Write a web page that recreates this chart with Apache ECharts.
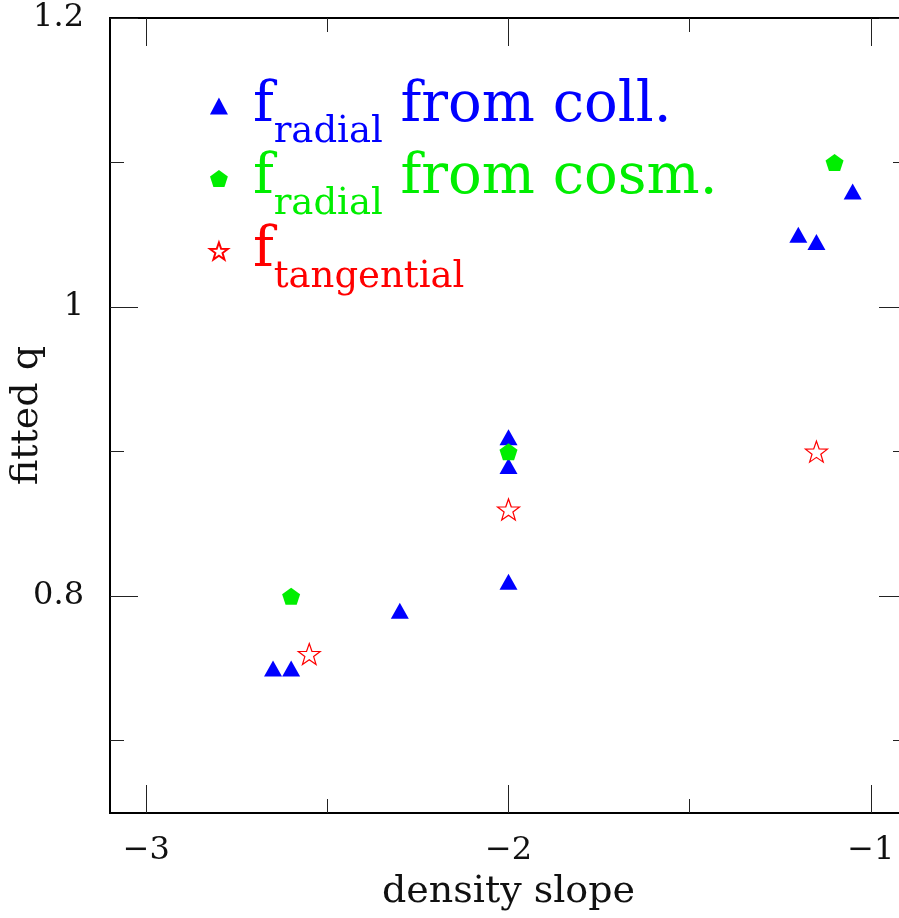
<!DOCTYPE html>
<html>
<head>
<meta charset="utf-8">
<script src="https://cdn.jsdelivr.net/npm/echarts@6/dist/echarts.min.js"></script>
<style>html,body{margin:0;padding:0;background:#fff;}#c{width:899px;height:918px;}</style>
</head>
<body>
<div id="c"></div>
<script>
// ---- data ----
const collX = [-2.65, -2.6, -2.3, -2.0, -2.0, -2.0, -1.2, -1.15, -1.05];
const collY = [0.75, 0.75, 0.79, 0.81, 0.89, 0.91, 1.05, 1.045, 1.08];
const cosmX = [-2.6, -2.0, -1.1];
const cosmY = [0.80, 0.90, 1.10];
const tangX = [-2.55, -2.0, -1.15];
const tangY = [0.76, 0.86, 0.90];
const xMajor = [-3, -2, -1];
const xMinor = [-2.5, -1.5];
const yMajor = [0.8, 1.0, 1.2];
const yMinor = [0.7, 0.9, 1.1];
const seriesNames = ['coll', 'cosm', 'tang'];

const FONT = 'DejaVu Serif';
const pentagon = 'path://M0,-10 L9.51,-3.09 L5.88,8.09 L-5.88,8.09 L-9.51,-3.09 Z';
const star = 'path://M0,-10 L2.35,-3.24 L9.51,-3.09 L3.80,1.24 L5.88,8.09 L0,4 L-5.88,8.09 L-3.80,1.24 L-9.51,-3.09 L-2.35,-3.24 Z';

const zip = (xs, ys) => xs.map((x, i) => [x, ys[i]]);
const minus = v => (v < 0 ? '\u2212' + Math.abs(v) : String(v));

function xAxisDef(pos, ticks, len, labels, extra) {
  return Object.assign({
    type: 'value', position: pos, min: -3.1, max: -0.9, gridIndex: 0,
    axisLine: { show: false },
    splitLine: { show: false },
    axisTick: { show: true, inside: true, length: len, customValues: ticks, lineStyle: { color: '#222', width: 1 } },
    axisLabel: labels ? { show: true, customValues: ticks, formatter: v => minus(v), fontFamily: FONT, fontSize: 32, color: '#111', margin: 22 } : { show: false }
  }, extra || {});
}
function yAxisDef(pos, ticks, len, labels, extra) {
  return Object.assign({
    type: 'value', position: pos, min: 0.65, max: 1.2, gridIndex: 0,
    axisLine: { show: false },
    splitLine: { show: false },
    axisTick: { show: true, inside: true, length: len, customValues: ticks, lineStyle: { color: '#222', width: 1 } },
    axisLabel: labels ? { show: true, customValues: ticks, formatter: v => (Math.abs(v - 1) < 1e-9 ? '1' : v.toFixed(1)), fontFamily: FONT, fontSize: 32, color: '#111', margin: 26 } : { show: false }
  }, extra || {});
}

const legendLabels = {
  coll: '{fb|f}{sb|radial}{tb| from coll.}',
  cosm: '{fg|f}{sg|radial}{tg| from cosm.}',
  tang: '{fr|f}{sr|tangential}'
};
function richSet(col, key) {
  const o = {};
  o['f' + key] = { fontFamily: FONT, fontSize: 56, color: col, padding: [0, 0, 0, 20] };
  o['s' + key] = { fontFamily: FONT, fontSize: 37, color: col, padding: [52, 0, 0, 0] };
  o['t' + key] = { fontFamily: FONT, fontSize: 56, color: col };
  return o;
}
const rich = Object.assign({}, richSet('#0000ff', 'b'), richSet('#00ee00', 'g'), richSet('#ff0000', 'r'));

const chart = echarts.init(document.getElementById('c'), null, { renderer: 'canvas' });
chart.setOption({
  animation: false,
  backgroundColor: '#ffffff',
  grid: { left: 110, top: 18, width: 797, height: 795, outerBoundsMode: 'none', containLabel: false, show: true, borderColor: '#000', borderWidth: 2, backgroundColor: 'transparent' },
  xAxis: [
    xAxisDef('bottom', xMajor, 28, true, { name: 'density slope', nameLocation: 'middle', nameGap: 60, nameMoveOverlap: false, nameTextStyle: { fontFamily: FONT, fontSize: 38, color: '#111' } }),
    xAxisDef('bottom', xMinor, 14, false),
    xAxisDef('top', xMajor, 28, false),
    xAxisDef('top', xMinor, 14, false)
  ],
  yAxis: [
    yAxisDef('left', yMajor, 28, true, { name: 'fitted q', nameLocation: 'middle', nameGap: 64, nameMoveOverlap: false, nameTextStyle: { fontFamily: FONT, fontSize: 38, color: '#111' } }),
    yAxisDef('left', yMinor, 14, false),
    yAxisDef('right', yMajor, 28, false),
    yAxisDef('right', yMinor, 14, false)
  ],
  legend: {
    orient: 'vertical', left: 209, top: 78, padding: 0, itemGap: 0,
    itemWidth: 18, itemHeight: 17,
    data: seriesNames,
    formatter: name => legendLabels[name],
    textStyle: { rich: rich },
    selectedMode: false
  },
  series: [
    { name: 'coll', type: 'scatter', xAxisIndex: 0, yAxisIndex: 0, data: zip(collX, collY), symbol: 'triangle', symbolSize: [18, 16], itemStyle: { color: '#0000ff', opacity: 1 } },
    { name: 'cosm', type: 'scatter', xAxisIndex: 0, yAxisIndex: 0, data: zip(cosmX, cosmY), symbol: pentagon, symbolSize: [18, 17], itemStyle: { color: '#00ee00', opacity: 1 } },
    { name: 'tang', type: 'scatter', xAxisIndex: 0, yAxisIndex: 0, data: zip(tangX, tangY), symbol: star, symbolSize: [22, 21], itemStyle: { color: 'rgba(0,0,0,0)', borderColor: '#ff0000', borderWidth: 1.2, opacity: 1 } }
  ]
});
</script>
</body>
</html>
